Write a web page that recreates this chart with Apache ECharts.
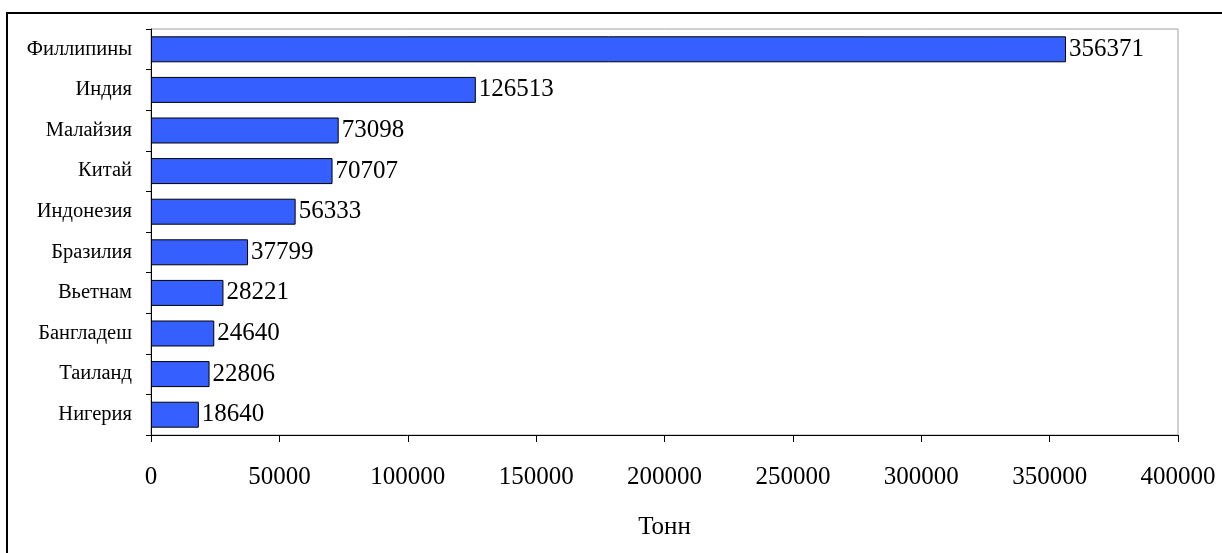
<!DOCTYPE html>
<html>
<head>
<meta charset="utf-8">
<script src="https://cdn.jsdelivr.net/npm/echarts@6/dist/echarts.min.js"></script>
<style>html,body{margin:0;padding:0;background:#fff;}#c{width:1222px;height:553px;}</style>
</head>
<body>
<div id="c"></div>
<script>
const categories = ['Филлипины','Индия','Малайзия','Китай','Индонезия','Бразилия','Вьетнам','Бангладеш','Таиланд','Нигерия'];
const values = [356371,126513,73098,70707,56333,37799,28221,24640,22806,18640];
const axisName = 'Тонн';
const xMin = 0, xMax = 400000, xInterval = 50000;

const chart = echarts.init(document.getElementById('c'), null, {renderer:'canvas'});
const font = '"Liberation Serif","Times New Roman",serif';
chart.setOption({
  animation:false,
  graphic:[{type:'rect',shape:{x:7,y:13,width:1400,height:800},style:{fill:'none',stroke:'#000',lineWidth:2},silent:true,z:-1}],
  grid:{left:151,right:44,top:29,bottom:118,show:true,borderColor:'#a0a0a0',borderWidth:1,backgroundColor:'transparent'},
  xAxis:{type:'value',min:xMin,max:xMax,interval:xInterval,
    name:axisName,nameLocation:'middle',nameGap:80,
    nameTextStyle:{fontFamily:font,fontSize:25,color:'#000'},
    axisLine:{show:true,lineStyle:{color:'#000',width:1}},
    axisTick:{show:true,length:7,inside:false,lineStyle:{color:'#000'}},
    splitLine:{show:false},
    axisLabel:{fontFamily:font,fontSize:25,color:'#000',margin:30,formatter:function(v){return String(v);}}},
  yAxis:{type:'category',inverse:true,data:categories,
    axisLine:{show:true,onZero:false,lineStyle:{color:'#000',width:1}},
    axisTick:{show:true,length:5,lineStyle:{color:'#000'}},
    axisLabel:{fontFamily:font,fontSize:20.5,color:'#000',margin:19}},
  series:[{type:'bar',data:values,barCategoryGap:'36%',
    itemStyle:{color:'#3560ff',borderColor:'#000',borderWidth:1},
    label:{show:true,position:'right',distance:3,fontFamily:font,fontSize:25,color:'#000'}}]
});
</script>
</body>
</html>
